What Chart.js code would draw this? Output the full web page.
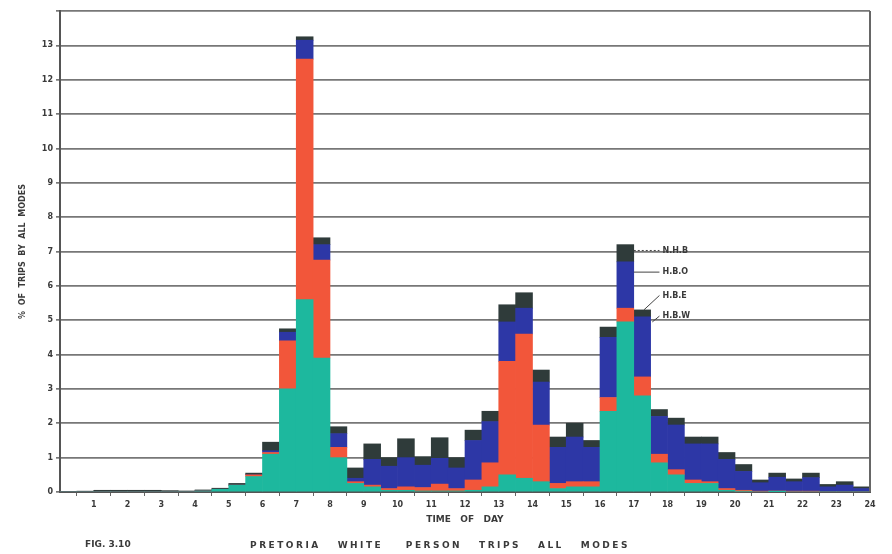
<!DOCTYPE html>
<html>
<head>
<meta charset="utf-8">
<script src="https://cdn.jsdelivr.net/npm/chart.js@4"></script>
<style>
  html, body { margin: 0; padding: 0; background: #fff; }
  #wrap { width: 892px; height: 554px; }
</style>
</head>
<body>
<div id="wrap"><canvas id="tripsChart"></canvas></div>
<script>
// half-hour slot start times (hours)
const slots = [0, 0.5, 1, 1.5, 2, 2.5, 3, 3.5, 4, 4.5, 5, 5.5, 6, 6.5, 7, 7.5,
  8, 8.5, 9, 9.5, 10, 10.5, 11, 11.5, 12, 12.5, 13, 13.5, 14, 14.5, 15, 15.5,
  16, 16.5, 17, 17.5, 18, 18.5, 19, 19.5, 20, 20.5, 21, 21.5, 22, 22.5, 23, 23.5];

// % of trips per purpose, stacked bottom to top
const hbw = [0, 0, 0, 0, 0, 0, 0, 0, 0.03, 0.08, 0.2, 0.45, 1.1, 3.0, 5.6, 3.9,
  1.0, 0.25, 0.15, 0.05, 0.05, 0.03, 0.03, 0.03, 0.05, 0.15, 0.5, 0.4, 0.3, 0.1, 0.15, 0.15,
  2.35, 4.95, 2.8, 0.85, 0.5, 0.25, 0.25, 0.05, 0.02, 0, 0.01, 0, 0, 0, 0, 0];
const hbe = [0, 0, 0, 0, 0, 0, 0, 0, 0, 0, 0, 0.05, 0.05, 1.4, 7.0, 2.85,
  0.3, 0.05, 0.05, 0.05, 0.1, 0.1, 0.2, 0.07, 0.3, 0.7, 3.3, 4.2, 1.65, 0.15, 0.15, 0.15,
  0.4, 0.4, 0.55, 0.25, 0.15, 0.1, 0.05, 0.05, 0.03, 0.02, 0.02, 0.02, 0.02, 0, 0, 0];
const hbo = [0, 0, 0, 0, 0, 0, 0, 0, 0, 0, 0, 0, 0.05, 0.25, 0.55, 0.45,
  0.4, 0.1, 0.75, 0.65, 0.85, 0.65, 0.75, 0.6, 1.15, 1.2, 1.15, 0.75, 1.25, 1.05, 1.3, 1.0,
  1.75, 1.35, 1.75, 1.1, 1.3, 1.05, 1.1, 0.85, 0.55, 0.25, 0.4, 0.28, 0.4, 0.15, 0.2, 0.1];
const nhb = [0, 0.02, 0.05, 0.05, 0.05, 0.05, 0.04, 0.03, 0.03, 0.03, 0.05, 0.05, 0.25, 0.1, 0.1, 0.2,
  0.2, 0.3, 0.45, 0.25, 0.55, 0.25, 0.6, 0.3, 0.3, 0.3, 0.5, 0.45, 0.35, 0.3, 0.4, 0.2,
  0.3, 0.5, 0.2, 0.2, 0.2, 0.2, 0.2, 0.2, 0.2, 0.08, 0.12, 0.08, 0.13, 0.07, 0.1, 0.05];

const seriesNames = ["H.B.W", "H.B.E", "H.B.O", "N.H.B"];
const seriesColors = ["#1db89e", "#f2563a", "#2d37a6", "#2f3b3a"];
const hourTicks = [1, 2, 3, 4, 5, 6, 7, 8, 9, 10, 11, 12, 13, 14, 15, 16, 17, 18, 19, 20, 21, 22, 23, 24];

const ink = "#3a3a3a";
const font = "'DejaVu Sans', sans-serif";

function toPoints(vals) {
  return vals.map((v, i) => ({ x: slots[i] + 0.25, y: v }));
}

// leader-line labels next to the 17h peak, and the figure caption
const annotate = {
  id: "annotate",
  afterDraw(chart) {
    const ctx = chart.ctx, xs = chart.scales.x, ys = chart.scales.y, a = chart.chartArea;
    ctx.save();
    // right frame line
    ctx.strokeStyle = "#666";
    ctx.lineWidth = 2;
    ctx.beginPath();
    ctx.moveTo(a.right, a.top);
    ctx.lineTo(a.right, a.bottom);
    ctx.stroke();

    const tx = xs.getPixelForValue(17.85);
    const labels = [
      { t: "N.H.B", y: 7.03, from: [17.0, 7.03], dash: [2, 2] },
      { t: "H.B.O", y: 6.4, from: [17.0, 6.4], dash: [] },
      { t: "H.B.E", y: 5.72, from: [17.3, 5.3], dash: [] },
      { t: "H.B.W", y: 5.12, from: [17.55, 4.95], dash: [] }
    ];
    ctx.font = "bold 8px " + font;
    ctx.fillStyle = ink;
    ctx.textBaseline = "middle";
    labels.forEach(l => {
      const py = ys.getPixelForValue(l.y);
      ctx.strokeStyle = "#444";
      ctx.lineWidth = 1;
      ctx.setLineDash(l.dash);
      ctx.beginPath();
      ctx.moveTo(xs.getPixelForValue(l.from[0]), ys.getPixelForValue(l.from[1]));
      ctx.lineTo(tx - 3, py);
      ctx.stroke();
      ctx.setLineDash([]);
      ctx.fillText(l.t, tx, py);
    });

    ctx.font = "bold 9px " + font;
    ctx.textBaseline = "middle";
    ctx.textAlign = "left";
    ctx.fillText("FIG. 3.10", 85, 545);
    ctx.textAlign = "center";
    ctx.letterSpacing = "2.5px";
    ctx.fillText("PRETORIA   WHITE    PERSON   TRIPS   ALL   MODES", 440, 546);
    ctx.restore();
  }
};

new Chart("tripsChart", {
  type: "bar",
  data: {
    datasets: [hbw, hbe, hbo, nhb].map((vals, k) => ({
      label: seriesNames[k],
      data: toPoints(vals),
      backgroundColor: seriesColors[k],
      borderWidth: 0,
      categoryPercentage: 1.0,
      barPercentage: 1.0
    }))
  },
  options: {
    responsive: true,
    maintainAspectRatio: false,
    animation: false,
    layout: { padding: { top: 11, right: 22, bottom: 29, left: 18 } },
    plugins: {
      legend: { display: false },
      tooltip: { enabled: false }
    },
    scales: {
      x: {
        type: "linear",
        stacked: true,
        offset: false,
        min: 0,
        max: 24,
        afterFit(s) { s.height = 33; },
        afterBuildTicks(s) { s.ticks = hourTicks.map(v => ({ value: v })); },
        ticks: {
          color: ink,
          font: { family: font, size: 8, weight: "bold" },
          padding: 4,
          maxRotation: 0,
          autoSkip: false
        },
        grid: { drawOnChartArea: false, drawTicks: true, tickLength: 4, color: "#666" },
        border: { color: "#555", width: 2 },
        title: {
          display: true,
          text: "TIME   OF   DAY",
          color: ink,
          font: { family: font, size: 9, weight: "bold" },
          padding: { top: 0, bottom: 0 }
        }
      },
      y: {
        stacked: true,
        min: 0,
        max: 14,
        afterFit(s) { s.width = 42; },
        ticks: {
          stepSize: 1,
          color: ink,
          font: { family: font, size: 8, weight: "bold" },
          padding: 3,
          callback: v => (v === 14 ? "" : v)
        },
        grid: { color: "#777", lineWidth: 1.7, tickLength: 4 },
        border: { color: "#555", width: 2 },
        title: {
          display: true,
          text: "%  OF  TRIPS  BY  ALL  MODES",
          color: ink,
          font: { family: font, size: 8, weight: "bold" },
          padding: { top: 0, bottom: 4 }
        }
      }
    }
  },
  plugins: [annotate]
});
</script>
</body>
</html>
